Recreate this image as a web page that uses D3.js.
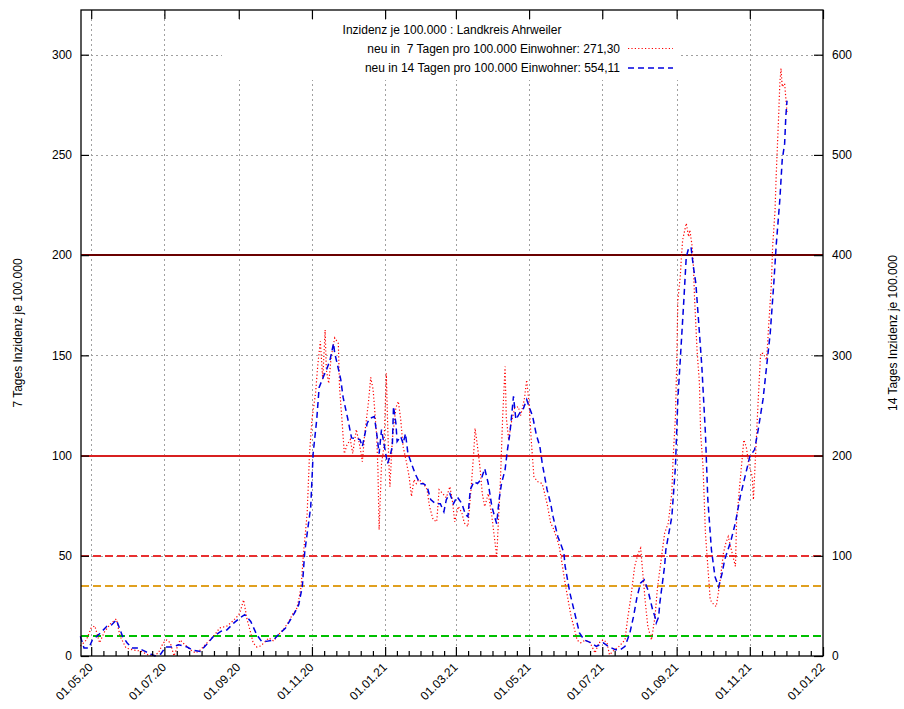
<!DOCTYPE html>
<html>
<head>
<meta charset="utf-8">
<script src="https://cdn.jsdelivr.net/npm/d3@7"></script>
<style>
  body { margin: 0; background: #fff; }
  text { font-family: "Liberation Sans", Arial, Helvetica, sans-serif; font-size: 12px; }
</style>
</head>
<body>
<svg id="chart" width="904" height="709"></svg>
<script>
const dates7 = [
  "22.04.20","27.04.20","01.05.20","04.05.20","08.05.20","12.05.20","17.05.20","20.05.20","22.05.20","25.05.20",
  "30.05.20","05.06.20","11.06.20","17.06.20","21.06.20","26.06.20","30.06.20","03.07.20","06.07.20","09.07.20",
  "14.07.20","18.07.20","23.07.20","27.07.20","31.07.20","04.08.20","08.08.20","12.08.20","16.08.20","22.08.20",
  "27.08.20","31.08.20","02.09.20","05.09.20","06.09.20","08.09.20","11.09.20","13.09.20","16.09.20","19.09.20",
  "22.09.20","26.09.20","30.09.20","04.10.20","08.10.20","12.10.20","16.10.20","19.10.20","21.10.20","23.10.20",
  "25.10.20","28.10.20","30.10.20","01.11.20","04.11.20","06.11.20","08.11.20","10.11.20","12.11.20","13.11.20",
  "15.11.20","17.11.20","20.11.20","23.11.20","24.11.20","26.11.20","28.11.20","30.11.20","03.12.20","05.12.20",
  "08.12.20","11.12.20","13.12.20","15.12.20","18.12.20","20.12.20","22.12.20","25.12.20","26.12.20","27.12.20",
  "29.12.20","31.12.20","02.01.21","03.01.21","04.01.21","05.01.21","07.01.21","10.01.21","12.01.21","14.01.21",
  "16.01.21","19.01.21","21.01.21","23.01.21","25.01.21","27.01.21","29.01.21","02.02.21","05.02.21","07.02.21",
  "10.02.21","13.02.21","15.02.21","18.02.21","21.02.21","24.02.21","26.02.21","28.02.21","03.03.21","06.03.21",
  "08.03.21","11.03.21","14.03.21","16.03.21","17.03.21","19.03.21","21.03.21","23.03.21","25.03.21","28.03.21",
  "31.03.21","02.04.21","04.04.21","07.04.21","08.04.21","09.04.21","11.04.21","12.04.21","14.04.21","16.04.21",
  "19.04.21","22.04.21","24.04.21","27.04.21","29.04.21","01.05.21","03.05.21","05.05.21","08.05.21","12.05.21",
  "14.05.21","16.05.21","19.05.21","21.05.21","24.05.21","26.05.21","28.05.21","31.05.21","02.06.21","05.06.21",
  "08.06.21","10.06.21","13.06.21","17.06.21","21.06.21","25.06.21","28.06.21","02.07.21","05.07.21","07.07.21",
  "11.07.21","15.07.21","20.07.21","22.07.21","25.07.21","28.07.21","31.07.21","02.08.21","04.08.21","06.08.21",
  "08.08.21","11.08.21","14.08.21","16.08.21","22.08.21","25.08.21","28.08.21","29.08.21","31.08.21","01.09.21",
  "02.09.21","04.09.21","05.09.21","06.09.21","09.09.21","11.09.21","12.09.21","14.09.21","15.09.21","16.09.21",
  "18.09.21","20.09.21","21.09.21","23.09.21","24.09.21","25.09.21","27.09.21","29.09.21","02.10.21","04.10.21",
  "07.10.21","10.10.21","12.10.21","14.10.21","17.10.21","20.10.21","21.10.21","24.10.21","27.10.21","29.10.21",
  "31.10.21","03.11.21","04.11.21","06.11.21","08.11.21","10.11.21","12.11.21","15.11.21","17.11.21","19.11.21",
  "20.11.21","22.11.21","23.11.21","25.11.21","26.11.21","27.11.21","28.11.21","30.11.21","02.12.21"
];
const inz7 = [
  5, 8, 14, 15, 6.6, 12, 16, 17.6, 18.5, 10,
  4, 3, 2.5, 0.7, 0, 1.5, 6.5, 8, 6.5, 0,
  8, 5.7, 3, 1.5, 3, 5.6, 8, 10.6, 14, 14.9,
  17.4, 19.9, 21.5, 28, 24.8, 18, 11.5, 6.5, 4.5, 5,
  6.5, 9, 7.5, 10.6, 13, 16.5, 21, 23, 28, 34.7,
  51.5, 71, 101, 118, 131, 146, 157, 138, 162.7, 142.7,
  136, 149, 158.7, 156, 134, 118, 101, 105, 108, 101,
  113, 104.5, 97, 111, 126, 139, 133, 109.5, 93, 63,
  96, 104, 141, 118, 98, 84.5, 108, 124, 127, 118,
  104.5, 96, 89.5, 79.6, 88, 86, 88, 86, 83, 74.6,
  68, 67, 83, 81, 79, 84.5, 78, 67, 74.6, 71.4,
  66.4, 64.6, 86, 102.8, 113.6, 104.5, 94.5, 81, 74.6, 81,
  69.6, 59.6, 49.6, 86, 102.8, 119.5, 144.4, 119, 107.8, 116,
  123.6, 124.4, 120, 127.8, 137.7, 126, 106, 89.5, 87, 86,
  81, 76, 66.3, 64, 59, 55, 48, 36.4, 29.7, 19.7,
  13, 8, 6.6, 8, 6.5, 1.5, 6.5, 8.1, 6.5, 0.6,
  3, 4.8, 8.1, 18, 30, 44.7, 51.3, 53.8, 40, 26,
  14.8, 8, 19.7, 34, 61.3, 66.3, 81.3, 97.9, 119.4, 144.4,
  177.6, 189.2, 199.2, 207.5, 215.9, 209.2, 212.5, 204.2, 194.2, 177.6,
  152.7, 136.1, 111.2, 94.5, 78, 61.3, 44.7, 28, 25.6, 24.7,
  36.4, 51.3, 56.3, 59.6, 52, 44.7, 68, 87.9, 107.8, 104.5,
  96.2, 89.5, 78, 102.8, 127.8, 151, 151, 147.7, 167.6, 186,
  204.2, 222, 240, 269, 285.6, 293.1, 284, 285.6, 271.3
];

const dates14 = [
  "22.04.20","25.04.20","29.04.20","02.05.20","06.05.20","10.05.20","14.05.20","18.05.20","22.05.20","27.05.20",
  "31.05.20","04.06.20","09.06.20","15.06.20","23.06.20","28.06.20","02.07.20","07.07.20","13.07.20","20.07.20",
  "25.07.20","31.07.20","05.08.20","11.08.20","17.08.20","22.08.20","28.08.20","02.09.20","06.09.20","11.09.20",
  "16.09.20","20.09.20","24.09.20","30.09.20","04.10.20","10.10.20","15.10.20","18.10.20","21.10.20","24.10.20",
  "26.10.20","31.10.20","02.11.20","05.11.20","07.11.20","11.11.20","13.11.20","16.11.20","19.11.20","20.11.20",
  "22.11.20","25.11.20","27.11.20","01.12.20","04.12.20","08.12.20","11.12.20","13.12.20","17.12.20","19.12.20",
  "23.12.20","25.12.20","27.12.20","29.12.20","31.12.20","03.01.21","05.01.21","07.01.21","08.01.21","10.01.21",
  "11.01.21","14.01.21","16.01.21","18.01.21","20.01.21","23.01.21","26.01.21","30.01.21","02.02.21","05.02.21",
  "08.02.21","12.02.21","16.02.21","19.02.21","21.02.21","24.02.21","27.02.21","02.03.21","06.03.21","09.03.21",
  "11.03.21","13.03.21","16.03.21","19.03.21","22.03.21","25.03.21","28.03.21","31.03.21","03.04.21","04.04.21",
  "06.04.21","08.04.21","11.04.21","13.04.21","15.04.21","18.04.21","20.04.21","23.04.21","26.04.21","29.04.21",
  "01.05.21","04.05.21","07.05.21","10.05.21","12.05.21","16.05.21","19.05.21","21.05.21","23.05.21","25.05.21",
  "27.05.21","30.05.21","31.05.21","04.06.21","08.06.21","12.06.21","16.06.21","22.06.21","26.06.21","02.07.21",
  "06.07.21","12.07.21","16.07.21","20.07.21","24.07.21","27.07.21","30.07.21","02.08.21","05.08.21","08.08.21",
  "12.08.21","14.08.21","15.08.21","17.08.21","18.08.21","22.08.21","23.08.21","28.08.21","31.08.21","02.09.21",
  "04.09.21","07.09.21","09.09.21","11.09.21","13.09.21","15.09.21","17.09.21","19.09.21","22.09.21","25.09.21",
  "27.09.21","30.09.21","03.10.21","06.10.21","09.10.21","11.10.21","16.10.21","20.10.21","24.10.21","28.10.21",
  "01.11.21","05.11.21","08.11.21","12.11.21","15.11.21","18.11.21","21.11.21","23.11.21","26.11.21","28.11.21",
  "30.11.21","01.12.21","02.12.21"
];
const inz14 = [
  19.6, 8, 8, 16, 20, 24.6, 29.6, 31, 36, 20,
  13, 8, 8, 4.6, 0, 2, 9, 9, 11.2, 9,
  5.6, 4.6, 11.2, 19.6, 24.6, 26, 33, 38, 41.2, 34.4,
  21.2, 14.6, 14.6, 16, 21.2, 28, 38, 44, 51.2, 69.4,
  104, 149, 202, 236, 268, 280, 285, 295, 312, 302,
  292, 276, 258, 236, 217.6, 217, 216, 209, 232, 237,
  239, 222, 202, 226, 212, 192, 199, 209, 249, 232,
  214, 219, 212, 222, 202, 192, 182, 172, 172, 169,
  156, 152, 152, 144, 156, 162, 152, 159, 152, 141,
  139, 166, 174, 172, 176, 187, 172, 149, 136, 132,
  156, 172, 186, 206, 222, 259, 236, 242, 246, 256,
  249, 239, 221, 209, 192, 166, 152, 139, 129, 119,
  113, 103, 90, 63, 43, 23, 16, 13, 9.6, 13,
  9.6, 6.2, 6.2, 9.6, 23, 39, 59, 73, 76, 66,
  46, 39, 33, 39, 53, 90, 106, 139, 189, 256,
  295, 355, 398, 407, 408, 388, 372, 339, 289, 222,
  156, 106, 79, 69, 83, 96, 114, 133, 159, 179,
  199, 206, 226, 256, 289, 322, 372, 410, 455, 495,
  511, 538, 554.11
];

const xTickLabels = ["01.05.20","01.07.20","01.09.20","01.11.20","01.01.21","01.03.21","01.05.21","01.07.21","01.09.21","01.11.21","01.01.22"];
const yTicks = [0, 50, 100, 150, 200, 250, 300];
const y2Ticks = [0, 100, 200, 300, 400, 500, 600];
const limitValues = [10, 35, 50, 100, 200];
const limitColors = ["#00c000", "#e0a020", "#e83030", "#d82020", "#6a0000"];
const limitDash = ["8,4", "8,4", "8,4", null, null];

const titleText = "Inzidenz je 100.000 : Landkreis Ahrweiler";
const yLabel = "7 Tages Inzidenz je 100.000";
const y2Label = "14 Tages Inzidenz je 100.000";

const m = { l: 81, r: 823, t: 10, b: 656 };
const parse = d3.timeParse("%d.%m.%y");
const fmt = v => d3.format(".2f")(v).replace(".", ",");

const s7 = dates7.map((d, i) => ({ date: parse(d), v: inz7[i] }));
const s14 = dates14.map((d, i) => ({ date: parse(d), v: inz14[i] }));
const xTicks = xTickLabels.map(parse);

const x = d3.scaleTime().domain([new Date(2020, 3, 22, 12), parse("01.01.22")]).range([m.l, m.r]);
const y = d3.scaleLinear().domain([0, 322.3]).range([m.b, m.t]);
const y2 = d3.scaleLinear().domain([0, 644.6]).range([m.b, m.t]);

// minor ticks: 5 between each pair of major ticks
const minor = [];
for (let i = 0; i < xTicks.length - 1; i++) {
  const a = +xTicks[i], b = +xTicks[i + 1];
  for (let k = 1; k < 6; k++) minor.push(new Date(a + (b - a) * k / 6));
}

const svg = d3.select("#chart");
svg.append("rect").attr("width", 904).attr("height", 709).attr("fill", "#fff");

// grid
const grid = svg.append("g").attr("stroke", "#a0a0a0").attr("stroke-width", 1).attr("stroke-dasharray", "2,3");
grid.selectAll(".gx").data(xTicks.slice(0, -1)).join("line")
  .attr("x1", d => Math.round(x(d)) + 0.5).attr("x2", d => Math.round(x(d)) + 0.5)
  .attr("y1", m.b).attr("y2", m.t);
grid.selectAll(".gy").data(yTicks.slice(1)).join("line")
  .attr("x1", m.l).attr("x2", m.r)
  .attr("y1", d => Math.round(y(d)) + 0.5).attr("y2", d => Math.round(y(d)) + 0.5);

// limit lines (snapped to whole pixels so they stay crisp)
svg.append("g").selectAll("line").data(limitValues).join("line")
  .attr("x1", m.l).attr("x2", m.r)
  .attr("y1", d => Math.round(y(d))).attr("y2", d => Math.round(y(d)))
  .attr("stroke", (d, i) => limitColors[i])
  .attr("stroke-width", 2)
  .attr("stroke-dasharray", (d, i) => limitDash[i]);

// series
svg.append("path").datum(s7)
  .attr("fill", "none").attr("stroke", "#ff0000").attr("stroke-width", 1.2)
  .attr("stroke-dasharray", "1.2,2.2")
  .attr("d", d3.line().x(d => x(d.date)).y(d => y(d.v)));
svg.append("path").datum(s14)
  .attr("fill", "none").attr("stroke", "#0000e0").attr("stroke-width", 1.5)
  .attr("stroke-dasharray", "6,4")
  .attr("d", d3.line().x(d => x(d.date)).y(d => y2(d.v)));

// legend
const lg = svg.append("g");
lg.append("rect").attr("x", 222).attr("y", 20).attr("width", 456).attr("height", 60).attr("fill", "#fff");
lg.append("text").attr("x", 452).attr("y", 34).attr("text-anchor", "middle").text(titleText);
lg.append("text").attr("x", 620).attr("y", 52.5).attr("text-anchor", "end").style("white-space", "pre")
  .text("neu in  7 Tagen pro 100.000 Einwohner: " + fmt(inz7[inz7.length - 1]));
lg.append("line").attr("x1", 628).attr("x2", 673).attr("y1", 48.5).attr("y2", 48.5)
  .attr("stroke", "#ff0000").attr("stroke-width", 1.2).attr("stroke-dasharray", "1.2,2.2");
lg.append("text").attr("x", 620).attr("y", 72).attr("text-anchor", "end").style("white-space", "pre")
  .text("neu in 14 Tagen pro 100.000 Einwohner: " + fmt(inz14[inz14.length - 1]));
lg.append("line").attr("x1", 628).attr("x2", 673).attr("y1", 68).attr("y2", 68)
  .attr("stroke", "#0000e0").attr("stroke-width", 1.5).attr("stroke-dasharray", "6,4");

// axes
function styleAxis(g) {
  g.attr("font-family", null).attr("font-size", null);
  g.select(".domain").remove();
  g.selectAll("line").attr("stroke", "#000").attr("stroke-width", 1.2);
  g.selectAll("text").attr("fill", "#000");
}
svg.append("g").attr("transform", `translate(0,${m.b})`)
  .call(d3.axisBottom(x).tickValues(minor).tickSize(-5).tickFormat("")).call(styleAxis);
svg.append("g").attr("transform", `translate(0,${m.b})`)
  .call(d3.axisBottom(x).tickValues(xTicks).tickSize(-9).tickFormat(d3.timeFormat("%d.%m.%y")))
  .call(styleAxis)
  .call(g => g.selectAll("text")
    .attr("x", 0).attr("y", 0).attr("dy", 0)
    .attr("text-anchor", "end")
    .attr("transform", "translate(2,12) rotate(-45)"));
svg.append("g").attr("transform", `translate(0,${m.t})`)
  .call(d3.axisTop(x).tickValues(xTicks).tickSize(-9).tickFormat("")).call(styleAxis);
svg.append("g").attr("transform", `translate(${m.l},0)`)
  .call(d3.axisLeft(y).tickValues(yTicks).tickSize(-8).tickPadding(9)).call(styleAxis);
svg.append("g").attr("transform", `translate(${m.r},0)`)
  .call(d3.axisRight(y2).tickValues(y2Ticks).tickSize(-9).tickPadding(9)).call(styleAxis);

// border
svg.append("rect").attr("x", m.l).attr("y", m.t).attr("width", m.r - m.l).attr("height", m.b - m.t)
  .attr("fill", "none").attr("stroke", "#000").attr("stroke-width", 1.3);

// axis titles
svg.append("text").attr("transform", `translate(18,${(m.t + m.b) / 2}) rotate(-90)`)
  .attr("text-anchor", "middle").attr("dy", "0.35em").text(yLabel);
svg.append("text").attr("transform", `translate(893,${(m.t + m.b) / 2}) rotate(-90)`)
  .attr("text-anchor", "middle").attr("dy", "0.35em").text(y2Label);
</script>
</body>
</html>
